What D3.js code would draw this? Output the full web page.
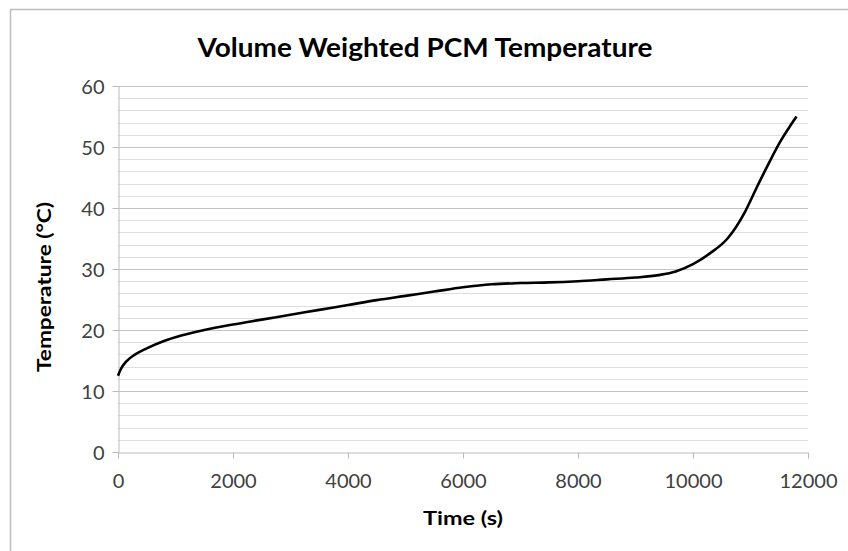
<!DOCTYPE html>
<html><head><meta charset="utf-8">
<script src="https://cdn.jsdelivr.net/npm/d3@7"></script>
<style>html,body{margin:0;background:#fff;overflow:hidden;}svg{display:block;font-family:Lato,"Open Sans",sans-serif;}</style>
</head><body>
<svg id="c" width="848" height="551"></svg>
<script>
const timeS = [0, 50, 150, 300, 500, 800, 1100, 1500, 2000, 2500, 3000, 3500, 4000, 4500, 5000, 5500, 6000, 6500, 7000, 7500, 8000, 8500, 9000, 9400, 9700, 10000, 10300, 10600, 10900, 11100, 11300, 11500, 11700, 11800];
const tempC = [12.5, 13.6, 14.9, 16.0, 17.0, 18.2, 19.1, 20.0, 20.9, 21.7, 22.5, 23.3, 24.1, 24.9, 25.6, 26.3, 27.0, 27.5, 27.7, 27.8, 28.0, 28.3, 28.6, 29.0, 29.6, 30.8, 32.6, 35.0, 39.3, 43.2, 47.0, 50.6, 53.6, 55.0];
const xTicks = [0, 2000, 4000, 6000, 8000, 10000, 12000];
const yTicks = [0, 10, 20, 30, 40, 50, 60];
const yMinor = d3.range(0, 61, 2);

const svg = d3.select("#c");
svg.append("path").attr("d","M10.5,560 V9.5 H860").attr("fill","none")
  .attr("stroke","#bdbdbd").attr("stroke-width",1.5);

const x = d3.scaleLinear().domain([0,12000]).range([118,808]);
const y = d3.scaleLinear().domain([0,60]).range([452,86]);

svg.append("g").selectAll("line").data(yMinor.filter(v=>v%10!==0)).join("line")
  .attr("x1",118).attr("x2",808).attr("y1",d=>Math.round(y(d))+0.5).attr("y2",d=>Math.round(y(d))+0.5)
  .attr("stroke","#dedede").attr("stroke-width",1);
svg.append("g").selectAll("line").data(yTicks.filter(v=>v>0)).join("line")
  .attr("x1",118).attr("x2",808).attr("y1",d=>Math.round(y(d))+0.5).attr("y2",d=>Math.round(y(d))+0.5)
  .attr("stroke","#c4c4c4").attr("stroke-width",1);

const yAxis = svg.append("g").attr("transform","translate(118.5,0)")
  .call(d3.axisLeft(y).tickValues(yTicks).tickSize(6).tickPadding(8));
const xAxis = svg.append("g").attr("transform","translate(0,452.5)")
  .call(d3.axisBottom(x).tickValues(xTicks).tickSize(6).tickPadding(15).tickFormat(d3.format("d")));
[yAxis,xAxis].forEach(a=>{
  a.selectAll("path,line").attr("stroke","#bcbcbc");
  a.selectAll("text").attr("fill","#404040").style("font-size","20px").style("font-family","Lato");
});
yAxis.selectAll("text").attr("dy","0.36em");

const line = d3.line().x((d,i)=>x(timeS[i])).y(d=>y(d)).curve(d3.curveMonotoneX);
svg.append("path").datum(tempC).attr("d",line).attr("fill","none")
  .attr("stroke","#000").attr("stroke-width",2.6).attr("stroke-linejoin","round");

svg.append("text").attr("x",425).attr("y",57).attr("text-anchor","middle")
  .style("font-size","26px").style("font-weight","bold").attr("fill","#000")
  .attr("textLength",455).attr("lengthAdjust","spacingAndGlyphs")
  .text("Volume Weighted PCM Temperature");
svg.append("text").attr("x",463).attr("y",525).attr("text-anchor","middle")
  .style("font-size","19px").style("font-weight","bold").attr("fill","#000")
  .attr("textLength",80).attr("lengthAdjust","spacingAndGlyphs")
  .text("Time (s)");
svg.append("text").attr("transform","translate(51,287) rotate(-90)").attr("text-anchor","middle")
  .style("font-size","19px").style("font-weight","bold").attr("fill","#000")
  .attr("textLength",170).attr("lengthAdjust","spacingAndGlyphs")
  .text("Temperature (°C)");
</script>
</body></html>
